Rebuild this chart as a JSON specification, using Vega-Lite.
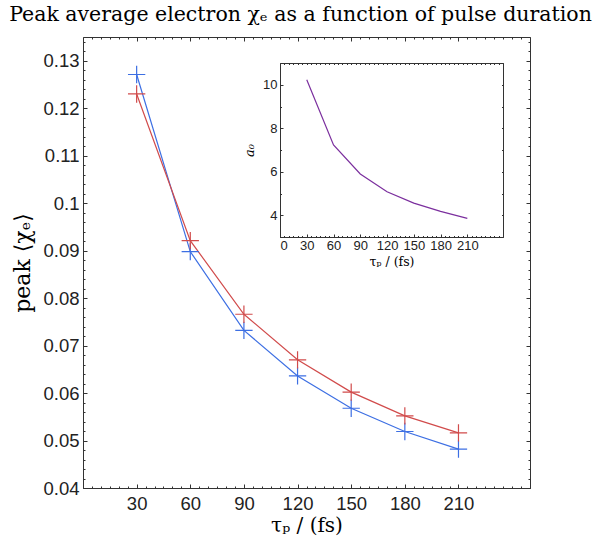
{
  "$schema": "https://vega.github.io/schema/vega-lite/v6.json",
  "width": 447,
  "height": 451,
  "autosize": {"type": "none"},
  "padding": {"left": 83, "top": 37, "right": 71, "bottom": 55},
  "background": "white",
  "title": {"text": "Peak average electron χₑ as a function of pulse duration", "font": "DejaVu Serif", "fontSize": 20.5, "fontWeight": "normal", "color": "black", "anchor": "middle", "dx": -6, "offset": 11},
  "config": {
    "view": {"stroke": null},
    "axis": {"grid": false, "domainColor": "#333", "tickColor": "#333", "labelColor": "#222", "labelFont": "Liberation Sans", "titleFont": "DejaVu Serif", "titleFontWeight": "normal", "titleColor": "black", "domainWidth": 1, "tickWidth": 1}
  },
  "datasets": {
    "chi": [
      {"series": "blue", "tau": 30, "chi": 0.1271},
      {"series": "blue", "tau": 60, "chi": 0.0898},
      {"series": "blue", "tau": 90, "chi": 0.0732},
      {"series": "blue", "tau": 120, "chi": 0.0636},
      {"series": "blue", "tau": 150, "chi": 0.0568},
      {"series": "blue", "tau": 180, "chi": 0.0519},
      {"series": "blue", "tau": 210, "chi": 0.0482},
      {"series": "red", "tau": 30, "chi": 0.123},
      {"series": "red", "tau": 60, "chi": 0.0921},
      {"series": "red", "tau": 90, "chi": 0.0766},
      {"series": "red", "tau": 120, "chi": 0.067},
      {"series": "red", "tau": 150, "chi": 0.0602},
      {"series": "red", "tau": 180, "chi": 0.0552},
      {"series": "red", "tau": 210, "chi": 0.0516}
    ],
    "a0": [
      {"tau": 30, "a0": 10.23},
      {"tau": 60, "a0": 7.23},
      {"tau": 90, "a0": 5.9},
      {"tau": 120, "a0": 5.08},
      {"tau": 150, "a0": 4.56},
      {"tau": 180, "a0": 4.18},
      {"tau": 210, "a0": 3.86}
    ]
  },
  "resolve": {"scale": {"x": "independent", "y": "independent", "color": "independent"}, "axis": {"x": "independent", "y": "independent"}},
  "layer": [
    {
      "data": {"name": "chi"},
      "mark": {"type": "line", "strokeWidth": 1.2},
      "encoding": {
        "x": {"field": "tau", "type": "quantitative", "scale": {"domain": [0, 250], "nice": false, "zero": false},
          "axis": {"orient": "bottom", "values": [30, 60, 90, 120, 150, 180, 210], "tickSize": -4, "labelFontSize": 18.5, "labelPadding": 10, "title": "τₚ / (fs)", "titleFontSize": 20, "titlePadding": 3}},
        "y": {"field": "chi", "type": "quantitative", "scale": {"domain": [0.04, 0.135], "nice": false, "zero": false},
          "axis": {"orient": "left", "values": [0.04, 0.05, 0.06, 0.07, 0.08, 0.09, 0.1, 0.11, 0.12, 0.13], "format": "~g", "tickSize": -4, "labelFontSize": 18.5, "labelPadding": 8, "title": "peak ⟨χₑ⟩", "titleFontSize": 22, "titlePadding": 8}},
        "color": {"field": "series", "type": "nominal", "scale": {"domain": ["blue", "red"], "range": ["#3d6fe3", "#d14b4b"]}, "legend": null},
        "detail": {"field": "series"}
      }
    },
    {
      "data": {"name": "chi"},
      "mark": {"type": "point", "shape": "M-1,0L1,0M0,-1L0,1", "filled": false, "size": 300, "strokeWidth": 1.2, "opacity": 1},
      "encoding": {
        "x": {"field": "tau", "type": "quantitative", "scale": {"domain": [0, 250], "nice": false, "zero": false},
          "axis": {"orient": "bottom", "values": [0,5,10,15,20,25,30,35,40,45,50,55,60,65,70,75,80,85,90,95,100,105,110,115,120,125,130,135,140,145,150,155,160,165,170,175,180,185,190,195,200,205,210,215,220,225,230,235,240,245,250], "tickSize": -2, "labels": false, "domain": false, "title": null}},
        "y": {"field": "chi", "type": "quantitative", "scale": {"domain": [0.04, 0.135], "nice": false, "zero": false},
          "axis": {"orient": "left", "values": [0.04,0.042,0.044,0.046,0.048,0.05,0.052,0.054,0.056,0.058,0.06,0.062,0.064,0.066,0.068,0.07,0.072,0.074,0.076,0.078,0.08,0.082,0.084,0.086,0.088,0.09,0.092,0.094,0.096,0.098,0.1,0.102,0.104,0.106,0.108,0.11,0.112,0.114,0.116,0.118,0.12,0.122,0.124,0.126,0.128,0.13,0.132,0.134], "tickSize": -2, "labels": false, "domain": false, "title": null}},
        "color": {"field": "series", "type": "nominal", "scale": {"domain": ["blue", "red"], "range": ["#3d6fe3", "#d14b4b"]}, "legend": null}
      }
    },
    {
      "data": {"name": "chi"},
      "mark": {"type": "point", "opacity": 0},
      "encoding": {
        "x": {"field": "tau", "type": "quantitative", "scale": {"domain": [0, 250], "nice": false, "zero": false},
          "axis": {"orient": "top", "values": [30, 60, 90, 120, 150, 180, 210], "tickSize": -4, "labels": false, "title": null}},
        "y": {"field": "chi", "type": "quantitative", "scale": {"domain": [0.04, 0.135], "nice": false, "zero": false},
          "axis": {"orient": "right", "values": [0.04, 0.05, 0.06, 0.07, 0.08, 0.09, 0.1, 0.11, 0.12, 0.13], "tickSize": -4, "labels": false, "title": null}}
      }
    },
    {
      "data": {"name": "chi"},
      "mark": {"type": "point", "opacity": 0},
      "encoding": {
        "x": {"field": "tau", "type": "quantitative", "scale": {"domain": [0, 250], "nice": false, "zero": false},
          "axis": {"orient": "top", "values": [0,5,10,15,20,25,30,35,40,45,50,55,60,65,70,75,80,85,90,95,100,105,110,115,120,125,130,135,140,145,150,155,160,165,170,175,180,185,190,195,200,205,210,215,220,225,230,235,240,245,250], "tickSize": -2, "labels": false, "domain": false, "title": null}},
        "y": {"field": "chi", "type": "quantitative", "scale": {"domain": [0.04, 0.135], "nice": false, "zero": false},
          "axis": {"orient": "right", "values": [0.04,0.042,0.044,0.046,0.048,0.05,0.052,0.054,0.056,0.058,0.06,0.062,0.064,0.066,0.068,0.07,0.072,0.074,0.076,0.078,0.08,0.082,0.084,0.086,0.088,0.09,0.092,0.094,0.096,0.098,0.1,0.102,0.104,0.106,0.108,0.11,0.112,0.114,0.116,0.118,0.12,0.122,0.124,0.126,0.128,0.13,0.132,0.134], "tickSize": -2, "labels": false, "domain": false, "title": null}}
      }
    },
    {
      "data": {"name": "a0"},
      "mark": {"type": "line", "color": "#7b2f9e", "strokeWidth": 1.2},
      "encoding": {
        "x": {"field": "tau", "type": "quantitative", "scale": {"domain": [0, 250], "range": [197, 420], "nice": false, "zero": false},
          "axis": {"orient": "bottom", "offset": -251, "values": [0, 30, 60, 90, 120, 150, 180, 210], "tickSize": -3, "labelFontSize": 13, "labelPadding": 5, "title": "τₚ / (fs)", "titleFontSize": 12.5, "titlePadding": 3}},
        "y": {"field": "a0", "type": "quantitative", "scale": {"domain": [3, 11], "range": [200, 26], "nice": false, "zero": false},
          "axis": {"orient": "left", "offset": -197, "values": [4, 6, 8, 10], "tickSize": -3, "labelFontSize": 13, "labelPadding": 6, "title": "a₀", "titleFontSize": 13, "titleFontStyle": "italic", "titlePadding": 6}}
      }
    },
    {
      "data": {"name": "a0"},
      "mark": {"type": "point", "opacity": 0},
      "encoding": {
        "x": {"field": "tau", "type": "quantitative", "scale": {"domain": [0, 250], "range": [197, 420], "nice": false, "zero": false},
          "axis": {"orient": "bottom", "offset": -251, "values": [0,5,10,15,20,25,30,35,40,45,50,55,60,65,70,75,80,85,90,95,100,105,110,115,120,125,130,135,140,145,150,155,160,165,170,175,180,185,190,195,200,205,210,215,220,225,230,235,240,245,250], "tickSize": -1.5, "labels": false, "domain": false, "title": null}},
        "y": {"field": "a0", "type": "quantitative", "scale": {"domain": [3, 11], "range": [200, 26], "nice": false, "zero": false},
          "axis": {"orient": "left", "offset": -197, "values": [3, 4, 5, 6, 7, 8, 9, 10, 11], "tickSize": -1.5, "labels": false, "domain": false, "title": null}}
      }
    },
    {
      "data": {"name": "a0"},
      "mark": {"type": "point", "opacity": 0},
      "encoding": {
        "x": {"field": "tau", "type": "quantitative", "scale": {"domain": [0, 250], "range": [197, 420], "nice": false, "zero": false},
          "axis": {"orient": "top", "offset": -26, "values": [0,5,10,15,20,25,30,35,40,45,50,55,60,65,70,75,80,85,90,95,100,105,110,115,120,125,130,135,140,145,150,155,160,165,170,175,180,185,190,195,200,205,210,215,220,225,230,235,240,245,250], "tickSize": -1.5, "labels": false, "title": null}},
        "y": {"field": "a0", "type": "quantitative", "scale": {"domain": [3, 11], "range": [200, 26], "nice": false, "zero": false},
          "axis": {"orient": "right", "offset": -27, "values": [3, 4, 5, 6, 7, 8, 9, 10, 11], "tickSize": -1.5, "labels": false, "title": null}}
      }
    }
  ]
}
